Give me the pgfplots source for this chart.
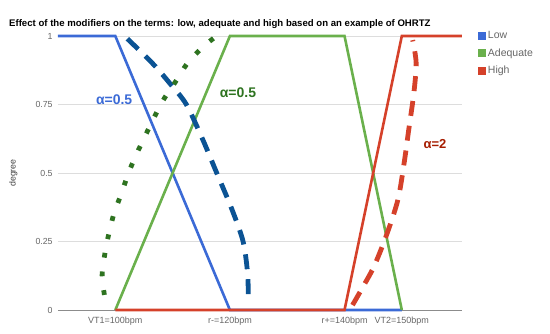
\documentclass[border=0pt]{standalone}
\usepackage{fontspec}
\setmainfont{Liberation Sans}
\usepackage{pgfplots}
\pgfplotsset{compat=1.18}
\definecolor{lowc}{HTML}{3B6AD6}
\definecolor{adqc}{HTML}{6AB04C}
\definecolor{highc}{HTML}{D5412A}
\definecolor{lowd}{HTML}{0B5394}
\definecolor{adqd}{HTML}{2E7320}
\definecolor{highd}{HTML}{D5412A}
\definecolor{lowlab}{HTML}{3B6AD6}
\definecolor{adqlab}{HTML}{2E7320}
\definecolor{highlab}{HTML}{A61C00}
\definecolor{gridc}{HTML}{DDDDDD}
\definecolor{tickc}{HTML}{666666}
\begin{document}
\begin{tikzpicture}
\begin{axis}[
  name=ax,
  at={(0pt,0pt)}, anchor=south west,
  scale only axis, width=404pt, height=274pt,
  xmin=90, xmax=160.5, ymin=0, ymax=1,
  axis lines=none,
  xtick=\empty, ytick=\empty,
  clip=false,
  legend style={at={(1.04,1.025)},anchor=north west,draw=none,fill=none,
    font=\fontsize{10.5}{12}\selectfont\color{tickc},row sep=4.5pt,
    inner sep=0pt},
  legend cell align=left,
  legend image code/.code={\fill[#1] (0.5pt,-2.5pt) rectangle (5.5pt,2.5pt);},
]
% grid
\foreach \yy in {0.25,0.5,0.75,1} {
  \edef\tmp{\noexpand\draw[gridc,line width=0.8pt] (axis cs:90,\yy) -- (axis cs:160.5,\yy);}\tmp
}
\draw[color=black!45,line width=0.9pt] (axis cs:90,0) -- (axis cs:160.5,0);
% y tick labels
\foreach \yy/\lab in {0/0,0.25/0.25,0.5/0.5,0.75/0.75,1/1} {
  \edef\tmp{\noexpand\node[anchor=east,text=tickc,font=\noexpand\fontsize{8.8}{10}\noexpand\selectfont,inner sep=0] at (axis cs:89.1,\yy) {\lab};}\tmp
}
\foreach \xx/\lab in {100/VT1=100bpm,120/r-=120bpm,140/r+=140bpm,150/VT2=150bpm} {
  \edef\tmp{\noexpand\node[anchor=north,text=tickc,font=\noexpand\fontsize{9}{10}\noexpand\selectfont,inner sep=0] at (axis cs:\xx,-0.025) {\lab};}\tmp
}
\node[rotate=90,text=black!75,font=\fontsize{8.8}{10}\selectfont] at (axis cs:82.2,0.5) {degree};

\addplot[lowc,line width=2.6pt] coordinates {(90,1) (100,1) (120,0) (140,0) (150,0)};
\addlegendentry{Low}
\addplot[adqc,line width=2.6pt] coordinates {(100,0) (120,1) (140,1) (150,0)};
\addlegendentry{Adequate}
\addplot[highc,line width=2.6pt] coordinates {(100,0) (140,0) (150,1) (160.5,1)};
\addlegendentry{High}

\addplot[forget plot,lowd,line width=4.8pt,smooth,dash pattern=on 15pt off 10pt] coordinates {
(102.1,0.99) (106.5,0.9) (109.8,0.82) (112.4,0.75) (115.2,0.625) (117.7,0.5) (120.3,0.37) (122.3,0.25) (123.1,0.13) (123.2,0.03)};
\addplot[forget plot,adqd,line width=4.8pt,smooth,dash pattern=on 4.8pt off 14pt] coordinates {
(98.1,0.055) (97.7,0.128) (98.2,0.208) (98.9,0.281) (99.8,0.354) (101.1,0.427) (102.3,0.5) (103.7,0.569) (105.3,0.639) (106.8,0.704) (108.6,0.774) (110.7,0.839) (112.6,0.901) (115.3,0.960) (117.9,1.004)};
\addplot[forget plot,highd,line width=4.8pt,smooth,dash pattern=on 15pt off 10pt] coordinates {
(141.4,0.018) (143.2,0.084) (145.1,0.157) (147.2,0.266) (149.3,0.401) (150.4,0.536) (151.2,0.657) (152.1,0.792) (152.5,0.901) (151.9,0.985)};

\node[text=lowlab,font=\fontsize{14}{16}\selectfont\bfseries] at (axis cs:99.8,0.767) {α=0.5};
\node[text=adqlab,font=\fontsize{14}{16}\selectfont\bfseries] at (axis cs:121.4,0.792) {α=0.5};
\node[text=highlab,font=\fontsize{13}{15}\selectfont\bfseries] at (axis cs:155.8,0.605) {α=2};
\end{axis}
\node[anchor=west,font=\fontsize{9.6}{11}\selectfont\bfseries,inner sep=0] at ([shift={(-49pt,286pt)}]ax.south west) {Effect of the modifiers on the terms: low, adequate and high based on an example of OHRTZ};
\pgfresetboundingbox
\path[use as bounding box] ([shift={(-58pt,-24pt)}]ax.south west) rectangle ++(550pt,334pt);
\end{tikzpicture}
\end{document}
